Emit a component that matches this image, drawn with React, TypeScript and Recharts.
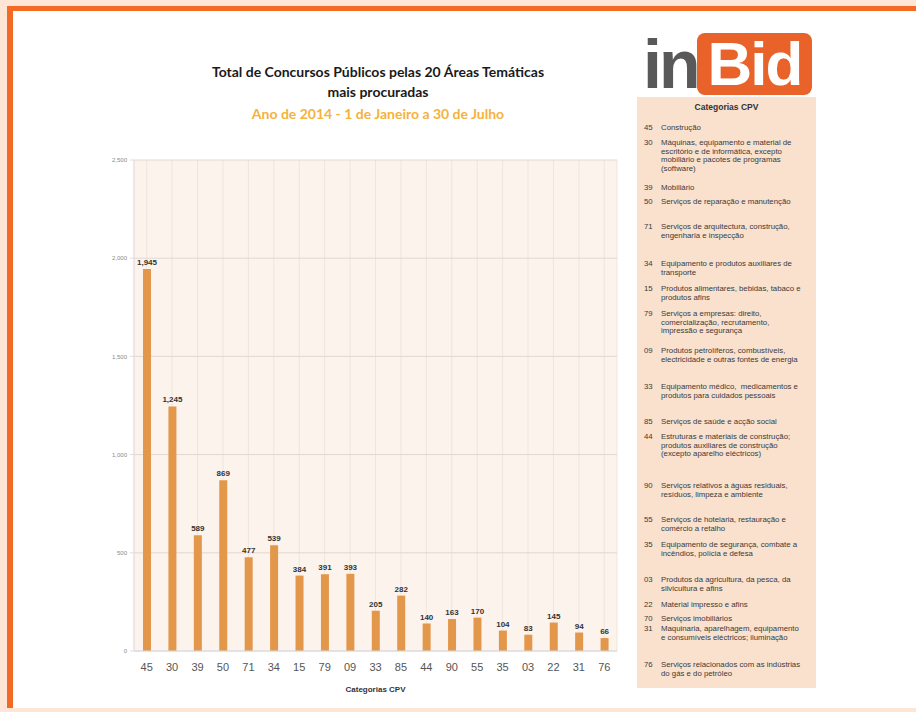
import { BarChart, Bar, XAxis, YAxis, CartesianGrid, LabelList } from "recharts";

const categories = ["45", "30", "39", "50", "71", "34", "15", "79", "09", "33", "85", "44", "90", "55", "35", "03", "22", "31", "76"];
const totals = [1945, 1245, 589, 869, 477, 539, 384, 391, 393, 205, 282, 140, 163, 170, 104, 83, 145, 94, 66];
const yTicks = [0, 500, 1000, 1500, 2000, 2500];

const legendCodes = ["45", "30", "39", "50", "71", "34", "15", "79", "09", "33", "85", "44", "90", "55", "35", "03", "22", "70", "31", "76"];
const legendLabels = [
  "Construção",
  "Máquinas, equipamento e material de\nescritório e de informática, excepto\nmobiliário e pacotes de programas\n(software)",
  "Mobiliário",
  "Serviços de reparação e manutenção",
  "Serviços de arquitectura, construção,\nengenharia e inspecção",
  "Equipamento e produtos auxiliares de\ntransporte",
  "Produtos alimentares, bebidas, tabaco e\nprodutos afins",
  "Serviços a empresas: direito,\ncomercialização, recrutamento,\nimpressão e segurança",
  "Produtos petrolíferos, combustíveis,\nelectricidade e outras fontes de energia",
  "Equipamento médico,  medicamentos e\nprodutos para cuidados pessoais",
  "Serviços de saúde e acção social",
  "Estruturas e materiais de construção;\nprodutos auxiliares de construção\n(excepto aparelho eléctricos)",
  "Serviços relativos a águas residuais,\nresíduos, limpeza e ambiente",
  "Serviços de hotelaria, restauração e\ncomércio a retalho",
  "Equipamento de segurança, combate a\nincêndios, polícia e defesa",
  "Produtos da agricultura, da pesca, da\nsilvicultura e afins",
  "Material impresso e afins",
  "Serviços imobiliários",
  "Maquinaria, aparelhagem, equipamento\ne consumíveis eléctricos; iluminação",
  "Serviços relacionados com as indústrias\ndo gás e do petróleo",
];

// layout only: vertical offset of each legend entry on the page
const legendTops = [124, 139, 184, 198, 223, 260, 285, 310, 347, 383, 418, 433, 482, 516, 541, 576, 601, 615, 625, 661];

const data = categories.map((c, i) => ({ cpv: c, total: totals[i] }));
const fmt = (v: number) => v.toLocaleString("en-US");

const sans = "'Liberation Sans', Arial, sans-serif";

export default function App() {
  return (
    <div style={{ position: "absolute", left: 0, top: 0, width: 916, height: 712, background: "#fde6d6", overflow: "hidden" }}>
      <div style={{ position: "absolute", left: 7, top: 6, right: 0, bottom: 4, background: "#f26a24" }} />
      <div style={{ position: "absolute", left: 13, top: 11, right: 0, bottom: 4, background: "#ffffff" }} />

      <div style={{ position: "absolute", left: 130, width: 496, top: 62, textAlign: "center", fontFamily: "Lato, sans-serif", fontWeight: 700, fontSize: 14, lineHeight: "20px", color: "#1a1a1a" }}>
        Total de Concursos Públicos pelas 20 Áreas Temáticas
        <br />
        mais procuradas
      </div>
      <div style={{ position: "absolute", left: 130, width: 496, top: 105, textAlign: "center", fontFamily: "Lato, sans-serif", fontWeight: 700, fontSize: 14, color: "#f6b23a" }}>
        Ano de 2014 - 1 de Janeiro a 30 de Julho
      </div>

      <div style={{ position: "absolute", left: 0, top: 0 }}>
        <BarChart width={916} height={712} data={data} margin={{ top: 160, right: 299, left: 104, bottom: 21 }}>
          <CartesianGrid fill="#fcf3ed" stroke="#f1e4da" horizontal={false} />
          <CartesianGrid stroke="#e2d8d0" vertical={false} />
          <XAxis dataKey="cpv" tickLine={false} axisLine={{ stroke: "#d6dce6" }} tick={{ fontSize: 11, fill: "#555", fontFamily: sans }} tickMargin={6} height={40} interval={0} />
          <YAxis domain={[0, 2500]} ticks={yTicks} tickFormatter={fmt} width={30} tick={{ fontSize: 6, fill: "#888", fontFamily: sans }} tickSize={4} tickMargin={3} axisLine={{ stroke: "#e4dde8" }} tickLine={{ stroke: "#ddd" }} />
          <Bar dataKey="total" fill="#e3974b" barSize={8} isAnimationActive={false}>
            <LabelList dataKey="total" position="top" offset={4} formatter={(v: number) => fmt(v)} style={{ fontSize: 8, fontWeight: 700, fill: "#333", fontFamily: sans }} />
          </Bar>
        </BarChart>
      </div>

      <div style={{ position: "absolute", left: 134, width: 483, top: 685, textAlign: "center", fontFamily: sans, fontWeight: 700, fontSize: 8, color: "#333" }}>
        Categorias CPV
      </div>

      <div style={{ position: "absolute", left: 643, top: 30, fontFamily: sans, fontWeight: 700, fontSize: 68, lineHeight: "68px", color: "#595959", letterSpacing: -3 }}>
        in
      </div>
      <div style={{ position: "absolute", left: 697, top: 33, width: 115, height: 62, borderRadius: 8, background: "#e8622a", color: "#fff", fontFamily: sans, fontWeight: 700, fontSize: 62, lineHeight: "62px", textAlign: "center", letterSpacing: -2 }}>
        Bid
      </div>

      <div style={{ position: "absolute", left: 637, top: 97, width: 179, height: 591, background: "#f9e1cd" }}>
        <div style={{ position: "absolute", top: 5, width: "100%", textAlign: "center", fontFamily: sans, fontWeight: 700, fontSize: 8.5, color: "#333" }}>
          Categorias CPV
        </div>
        {legendCodes.map((code, i) => (
          <div key={code} style={{ position: "absolute", left: 7, top: legendTops[i] - 97, display: "flex", fontFamily: sans, fontSize: 7.8, lineHeight: "8.6px", color: "#3a3a3a" }}>
            <span style={{ width: 17 }}>{code}</span>
            <span style={{ whiteSpace: "pre" }}>{legendLabels[i]}</span>
          </div>
        ))}
      </div>
    </div>
  );
}
